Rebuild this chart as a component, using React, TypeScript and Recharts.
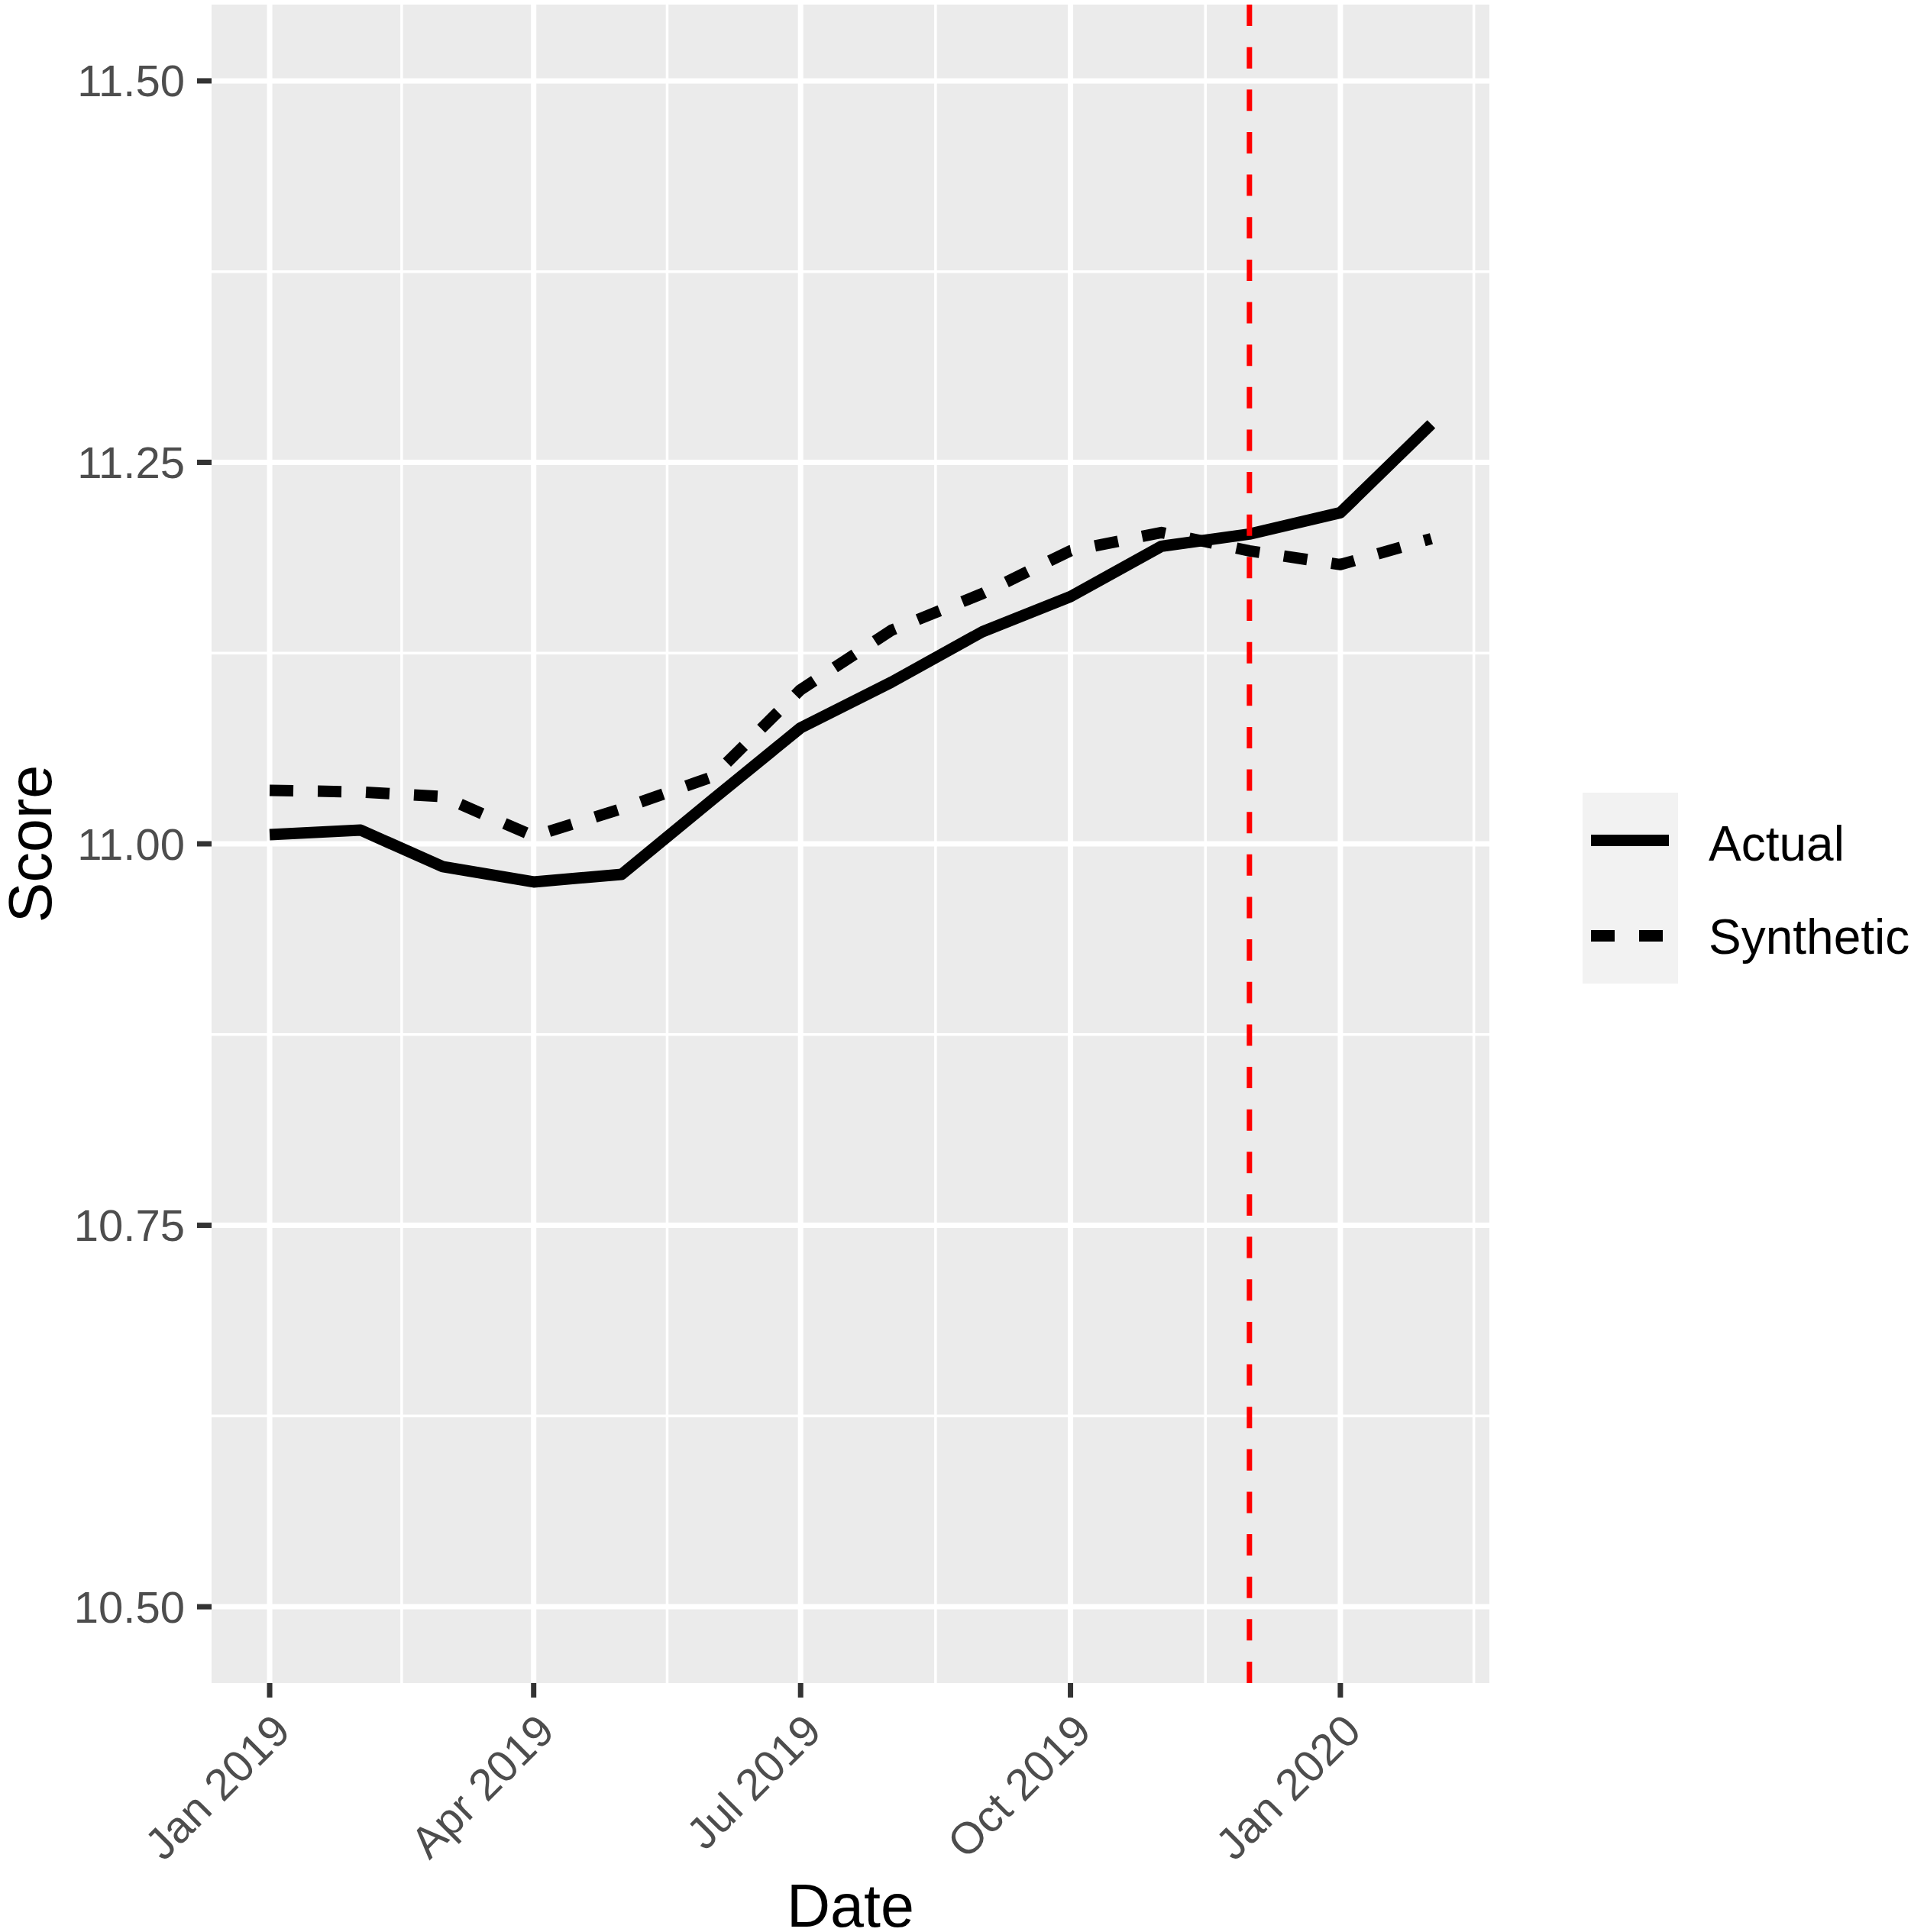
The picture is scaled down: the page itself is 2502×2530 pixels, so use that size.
import { CartesianGrid, Legend, Line, LineChart, ReferenceLine, XAxis, YAxis } from "recharts";

const FONT = "'Liberation Sans', Arial, Helvetica, sans-serif";
const TICK_GREY = "#4D4D4D";
const PANEL = "#EBEBEB";

// monthly observations, Jan 2019 - Feb 2020
const MONTHS = [
  "2019-01-01", "2019-02-01", "2019-03-01", "2019-04-01", "2019-05-01", "2019-06-01", "2019-07-01",
  "2019-08-01", "2019-09-01", "2019-10-01", "2019-11-01", "2019-12-01", "2020-01-01", "2020-02-01",
];
const ACTUAL = [11.006, 11.009, 10.985, 10.975, 10.98, 11.029, 11.076, 11.106, 11.139, 11.162, 11.195, 11.203, 11.217, 11.275];
const SYNTHETIC = [11.035, 11.034, 11.031, 11.005, 11.023, 11.044, 11.101, 11.14, 11.164, 11.192, 11.204, 11.192, 11.183, 11.2];

const X_TICKS = ["2019-01-01", "2019-04-01", "2019-07-01", "2019-10-01", "2020-01-01"];
const X_NEXT_BREAK = "2020-04-01";
const Y_TICKS = [10.5, 10.75, 11, 11.25, 11.5];
const Y_MINOR = [10.625, 10.875, 11.125, 11.375];
const Y_LIMITS = [10.45, 11.55];
const TREATMENT = "2019-12-01";
const MONTH_NAMES = ["Jan", "Feb", "Mar", "Apr", "May", "Jun", "Jul", "Aug", "Sep", "Oct", "Nov", "Dec"];

const SERIES = [
  { key: "actual", name: "Actual", dash: undefined },
  { key: "synthetic", name: "Synthetic", dash: "31 32" },
];

const ts = (s: string) => Date.parse(s + "T00:00:00Z");

const data = MONTHS.map((m, i) => ({ date: ts(m), actual: ACTUAL[i], synthetic: SYNTHETIC[i] }));

const xTicks = X_TICKS.map(ts);
const breaks = [...xTicks, ts(X_NEXT_BREAK)];
const xMinor = breaks.slice(1).map((b, i) => (b + breaks[i]) / 2);
const span = data[data.length - 1].date - data[0].date;
const pad = span * 0.05;

const fmtDate = (v: number) => {
  const d = new Date(v);
  return `${MONTH_NAMES[d.getUTCMonth()]} ${d.getUTCFullYear()}`;
};

const DateTick = ({ x, y, payload }: any) => {
  const tx = x + 30;
  const ty = y + 47;
  return (
    <text x={tx} y={ty} textAnchor="end" transform={`rotate(-45, ${tx}, ${ty})`} fill={TICK_GREY} fontSize={58} fontFamily={FONT}>
      {fmtDate(payload.value)}
    </text>
  );
};

const DateTitle = ({ viewBox }: any) => (
  <text x={viewBox.x + viewBox.width / 2} y={viewBox.y + viewBox.height - 7} textAnchor="middle" fontSize={79} fontFamily={FONT} fill="#000">
    Date
  </text>
);

const ScoreTitle = ({ viewBox }: any) => {
  const cx = 67;
  const cy = viewBox.y + viewBox.height / 2;
  return (
    <text x={cx} y={cy} textAnchor="middle" transform={`rotate(-90, ${cx}, ${cy})`} fontSize={79} fontFamily={FONT} fill="#000">
      Score
    </text>
  );
};

const KeyLegend = () => (
  <svg width={430} height={250} style={{ display: "block" }}>
    <rect x={0} y={0} width={125} height={250} fill="#F2F2F2" />
    {SERIES.map((s, i) => (
      <g key={s.key}>
        <line x1={11} x2={113} y1={62.5 + i * 125} y2={62.5 + i * 125} stroke="#000" strokeWidth={15} strokeDasharray={s.dash} />
        <text x={165} y={89 + i * 122} fontSize={64} fontFamily={FONT} fill="#000">
          {s.name}
        </text>
      </g>
    ))}
  </svg>
);

export default function App() {
  return (
    <div style={{ position: "relative", width: 2502, height: 2530 }}>
      <style>{`body{margin:0}`}</style>
      <LineChart width={2502} height={2530} data={data} margin={{ top: 6, right: 552, bottom: 0, left: 0 }}>
        <CartesianGrid fill={PANEL} stroke="#FFFFFF" strokeWidth={3.5} horizontalValues={Y_MINOR} verticalValues={xMinor} />
        <CartesianGrid stroke="#FFFFFF" strokeWidth={7} horizontalValues={Y_TICKS} verticalValues={xTicks} />
        <XAxis
          dataKey="date"
          type="number"
          domain={[(min: number) => min - pad, (max: number) => max + pad]}
          allowDataOverflow
          ticks={xTicks}
          interval={0}
          height={326}
          axisLine={false}
          tickSize={19}
          tickMargin={0}
          tickLine={{ stroke: "#333333", strokeWidth: 7 }}
          tick={<DateTick />}
          label={<DateTitle />}
        />
        <YAxis
          type="number"
          domain={Y_LIMITS}
          allowDataOverflow
          ticks={Y_TICKS}
          interval={0}
          width={277}
          axisLine={false}
          tickSize={19}
          tickMargin={16}
          tickLine={{ stroke: "#333333", strokeWidth: 7 }}
          tickFormatter={(v: number) => v.toFixed(2)}
          tick={{ fill: TICK_GREY, fontSize: 58, fontFamily: FONT }}
          label={<ScoreTitle />}
        />
        {SERIES.map((s) => (
          <Line
            key={s.key}
            type="linear"
            dataKey={s.key}
            name={s.name}
            stroke="#000000"
            strokeWidth={15}
            strokeDasharray={s.dash}
            strokeLinejoin="round"
            strokeLinecap="butt"
            dot={false}
            activeDot={false}
            isAnimationActive={false}
          />
        ))}
        <ReferenceLine x={ts(TREATMENT)} stroke="#FF0000" strokeWidth={7} strokeDasharray="28 27.64" />
        <Legend
          layout="horizontal"
          align="center"
          verticalAlign="middle"
          wrapperStyle={{ position: "absolute", left: 2072, top: 1038, width: 430, height: 250 }}
          content={<KeyLegend />}
        />
      </LineChart>
    </div>
  );
}
